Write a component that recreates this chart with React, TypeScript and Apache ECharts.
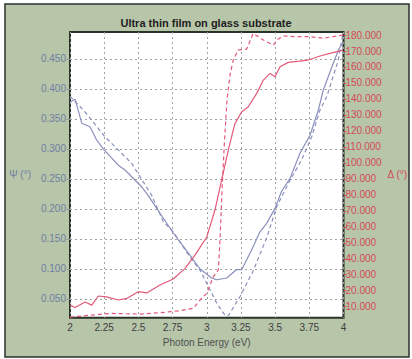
import React, { useEffect, useRef } from "react";
import * as echarts from "echarts";

// Photon energy (eV) sample positions and values for each curve
const psiMeasE = [2.0, 2.037, 2.086, 2.146, 2.195, 2.251, 2.353, 2.402, 2.524, 2.57, 2.634, 2.755, 2.877, 2.951, 3.036, 3.073, 3.146, 3.219, 3.256, 3.329, 3.389, 3.438, 3.499, 3.548, 3.609, 3.682, 3.755, 3.816, 3.852, 3.925, 3.969, 3.996];
const psiMeas = [0.378, 0.383, 0.343, 0.337, 0.315, 0.298, 0.273, 0.265, 0.237, 0.223, 0.201, 0.16, 0.123, 0.1, 0.085, 0.082, 0.085, 0.099, 0.099, 0.132, 0.162, 0.176, 0.201, 0.23, 0.251, 0.293, 0.323, 0.365, 0.398, 0.443, 0.468, 0.478];

const psiModelE = [2.0, 2.097, 2.159, 2.256, 2.329, 2.451, 2.597, 2.682, 2.755, 2.877, 2.951, 3.0, 3.073, 3.133, 3.158, 3.243, 3.34, 3.438, 3.512, 3.609, 3.694, 3.767, 3.828, 3.877, 3.962, 3.996];
const psiModel = [0.388, 0.365, 0.348, 0.32, 0.304, 0.276, 0.223, 0.179, 0.162, 0.12, 0.098, 0.076, 0.043, 0.023, 0.022, 0.054, 0.097, 0.152, 0.204, 0.248, 0.282, 0.32, 0.365, 0.387, 0.448, 0.493];

const deltaMeasE = [2.0, 2.037, 2.11, 2.159, 2.207, 2.268, 2.353, 2.415, 2.499, 2.561, 2.658, 2.755, 2.841, 2.914, 3.0, 3.06, 3.109, 3.158, 3.194, 3.207, 3.256, 3.304, 3.365, 3.414, 3.463, 3.499, 3.536, 3.596, 3.682, 3.743, 3.828, 3.901, 3.996];
const deltaMeas = [11.0, 9.5, 12.9, 11.0, 16.7, 16.2, 14.2, 15.2, 19.4, 18.6, 23.6, 27.3, 34.0, 42.3, 53.6, 70.5, 89.3, 108.1, 120.6, 124.7, 132.0, 135.1, 143.5, 151.8, 156.0, 153.9, 160.2, 162.9, 163.7, 164.4, 166.9, 168.5, 170.6];

const deltaModelE = [2.0, 2.293, 2.512, 2.658, 2.804, 2.902, 2.951, 3.0, 3.048, 3.085, 3.097, 3.112, 3.13, 3.148, 3.17, 3.194, 3.229, 3.292, 3.34, 3.414, 3.487, 3.512, 3.56, 3.658, 3.755, 3.852, 3.925, 3.996];
const deltaModel = [3.5, 5.8, 5.4, 6.2, 7.5, 9.0, 14.2, 18.4, 28.7, 33.0, 51.8, 83.0, 114.3, 139.3, 155.0, 164.4, 170.6, 171.2, 181.0, 176.9, 173.7, 176.9, 179.4, 179.0, 179.0, 178.0, 179.0, 180.0];

// Axis tick values
const psiTicks = [0.05, 0.1, 0.15, 0.2, 0.25, 0.3, 0.35, 0.4, 0.45];
const deltaTicks = [10, 20, 30, 40, 50, 60, 70, 80, 90, 100, 110, 120, 130, 140, 150, 160, 170, 180];

const zip = (xs: number[], ys: number[]) => xs.map((x, i) => [x, ys[i]]);

const BLUE = "#8a90bc";
const RED = "#e35a78";
const PSI_TEXT = "#6f7fa3";
const DELTA_TEXT = "#d34a55";
const FONT = "Liberation Sans, Arial, sans-serif";

export default function App() {
  const ref = useRef<HTMLDivElement>(null);

  useEffect(() => {
    if (!ref.current) return;
    const chart = echarts.init(ref.current, undefined, { renderer: "svg" });
    chart.setOption({
      animation: false,
      backgroundColor: "#ffffff",
      textStyle: { fontFamily: FONT },
      graphic: [
        {
          type: "rect",
          z: -10,
          silent: true,
          shape: { x: 5, y: 4, width: 404, height: 353 },
          style: { fill: "#b7c5a9", stroke: "#2d322c", lineWidth: 1.5 },
        },
      ],
      title: {
        text: "Ultra thin film on glass substrate",
        left: "center",
        top: 12,
        textStyle: { fontFamily: FONT, fontSize: 11, fontWeight: "bold", color: "#1e1e1e" },
      },
      grid: {
        left: 70,
        right: 68.5,
        top: 32,
        bottom: 41.3,
        show: true,
        backgroundColor: "#ffffff",
        borderColor: "#2a3327",
        borderWidth: 2,
        containLabel: false,
      },
      xAxis: {
        type: "value",
        min: 2,
        max: 4,
        interval: 0.25,
        name: "Photon Energy (eV)",
        nameLocation: "middle",
        nameGap: 17,
        nameTextStyle: { fontFamily: FONT, fontSize: 10, color: "#505050" },
        axisLine: { show: false },
        axisTick: { show: false },
        axisLabel: { fontFamily: FONT, fontSize: 10, color: "#404040", margin: 5 },
        splitLine: { show: true, lineStyle: { color: "#a0a0a0", type: [2, 3], width: 1 } },
      },
      yAxis: [
        {
          type: "value",
          min: 0.0188,
          max: 0.495,
          name: "Ψ (°)",
          nameLocation: "middle",
          nameRotate: 0,
          nameGap: 39,
          nameTextStyle: { fontFamily: FONT, fontSize: 10, color: PSI_TEXT },
          axisLine: { show: false },
          axisTick: { show: true, length: 3, customValues: psiTicks, lineStyle: { color: "#8a8f99" } },
          axisLabel: {
            fontFamily: FONT,
            fontSize: 10,
            color: PSI_TEXT,
            margin: 4,
            customValues: psiTicks,
            formatter: (v: number) => v.toFixed(3),
          },
          splitLine: { show: true, lineStyle: { color: "#a0a0a0", type: [2, 3], width: 1 } },
        },
        {
          type: "value",
          min: 3.12,
          max: 181.9,
          position: "right",
          name: "Δ (°)",
          nameLocation: "middle",
          nameRotate: 0,
          nameGap: 43,
          nameTextStyle: { fontFamily: FONT, fontSize: 10, color: DELTA_TEXT },
          axisLine: { show: false },
          axisTick: { show: true, length: 3, customValues: deltaTicks, lineStyle: { color: DELTA_TEXT } },
          axisLabel: {
            fontFamily: FONT,
            fontSize: 10,
            color: DELTA_TEXT,
            margin: 2,
            customValues: deltaTicks,
            formatter: (v: number) => v.toFixed(3),
          },
          splitLine: { show: false },
        },
      ],
      series: [
        {
          name: "Ψ model",
          type: "line",
          yAxisIndex: 0,
          data: zip(psiModelE, psiModel),
          showSymbol: false,
          clip: true,
          lineStyle: { color: BLUE, width: 1.2, type: [4, 3] },
        },
        {
          name: "Ψ measured",
          type: "line",
          yAxisIndex: 0,
          data: zip(psiMeasE, psiMeas),
          showSymbol: false,
          clip: true,
          lineStyle: { color: BLUE, width: 1.2 },
        },
        {
          name: "Δ model",
          type: "line",
          yAxisIndex: 1,
          data: zip(deltaModelE, deltaModel),
          showSymbol: false,
          clip: true,
          lineStyle: { color: RED, width: 1.2, type: [4, 3] },
        },
        {
          name: "Δ measured",
          type: "line",
          yAxisIndex: 1,
          data: zip(deltaMeasE, deltaMeas),
          showSymbol: false,
          clip: true,
          lineStyle: { color: RED, width: 1.2 },
        },
      ],
    });
    return () => chart.dispose();
  }, []);

  return (
    <div
      ref={ref}
      style={{ position: "fixed", left: 0, top: 0, width: 412, height: 359 }}
    />
  );
}
